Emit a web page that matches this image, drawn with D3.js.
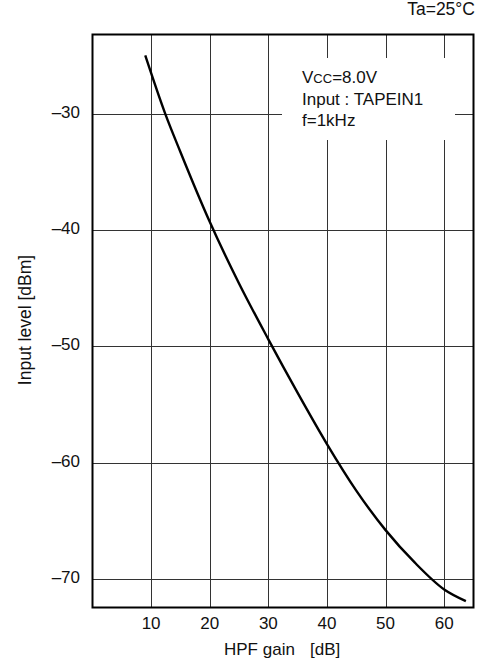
<!DOCTYPE html>
<html>
<head>
<meta charset="utf-8">
<script src="https://cdn.jsdelivr.net/npm/d3@7"></script>
<style>
  body { margin: 0; background: #fff; }
  text { font-family: "Liberation Sans", Arial, sans-serif; fill: #111; white-space: pre; }
</style>
</head>
<body>
<svg id="canvas" width="479" height="664"></svg>
<script>
// HPF gain [dB] vs input level [dBm]
const gain = [9, 12.4, 15, 20, 25, 30, 35, 40, 45, 50, 55, 60, 63.7];
const level = [-25.0, -30, -33.3, -39.3, -44.6, -49.4, -54.0, -58.4, -62.4, -65.8, -68.6, -70.9, -71.9];
const xTicks = [10, 20, 30, 40, 50, 60];
const yTicks = [-30, -40, -50, -60, -70];
const notes = ["=8.0V", "Input : TAPEIN1", "f=1kHz"];

const m = { left: 92.5, top: 34.5, right: 473.5, bottom: 607.5 };

const svg = d3.select('#canvas');

const x = d3.scaleLinear().domain([0, 65]).range([m.left, m.right]);
const y = d3.scaleLinear().domain([-72.45, -23.2]).range([m.bottom, m.top]);

const g = svg.append("g");

// grid
g.append("g")
  .selectAll("line")
  .data(xTicks)
  .join("line")
  .attr("x1", d => Math.round(x(d)) + 0.5)
  .attr("x2", d => Math.round(x(d)) + 0.5)
  .attr("y1", m.top)
  .attr("y2", m.bottom)
  .attr("stroke", "#333");

g.append("g")
  .selectAll("line")
  .data(yTicks)
  .join("line")
  .attr("x1", m.left)
  .attr("x2", m.right)
  .attr("y1", d => Math.round(y(d)) + 0.5)
  .attr("y2", d => Math.round(y(d)) + 0.5)
  .attr("stroke", "#333");

// white box behind the conditions text
g.append("rect")
  .attr("x", 282)
  .attr("y", 58)
  .attr("width", 173)
  .attr("height", 82)
  .attr("fill", "#fff");

const t = g.append("text")
  .attr("font-size", 17);
const first = t.append("tspan").attr("x", 302).attr("y", 83);
first.append("tspan").text("V");
first.append("tspan").attr("font-size", 13).text("CC");
first.append("tspan").text(notes[0]);
t.append("tspan").attr("x", 302).attr("y", 104.5).text(notes[1]);
t.append("tspan").attr("x", 302).attr("y", 126).text(notes[2]);

// curve
const pts = gain.map((d, i) => [d, level[i]]);
g.append("path")
  .datum(pts)
  .attr("fill", "none")
  .attr("stroke", "#000")
  .attr("stroke-width", 2.4)
  .attr("d", d3.line().x(d => x(d[0])).y(d => y(d[1])).curve(d3.curveMonotoneX));

// frame
g.append("rect")
  .attr("x", m.left)
  .attr("y", m.top)
  .attr("width", m.right - m.left)
  .attr("height", m.bottom - m.top)
  .attr("fill", "none")
  .attr("stroke", "#000")
  .attr("stroke-width", 2);

// tick labels
g.append("g")
  .selectAll("text")
  .data(xTicks)
  .join("text")
  .attr("x", d => x(d))
  .attr("y", 628.5)
  .attr("text-anchor", "middle")
  .attr("font-size", 17)
  .text(d => d);

g.append("g")
  .selectAll("text")
  .data(yTicks)
  .join("text")
  .attr("x", 80)
  .attr("y", d => y(d) + 4)
  .attr("text-anchor", "end")
  .attr("font-size", 17)
  .text(d => "\u2013" + Math.abs(d));

// axis titles
const xt = svg.append("text")
  .attr("y", 655)
  .attr("font-size", 17);
xt.append("tspan").attr("x", 224).text("HPF gain");
xt.append("tspan").attr("x", 310).text("[dB]");

svg.append("text")
  .attr("transform", "translate(31,320) rotate(-90)")
  .attr("text-anchor", "middle")
  .attr("font-size", 17.5)
  .text("Input level [dBm]");

svg.append("text")
  .attr("x", 475)
  .attr("y", 15)
  .attr("text-anchor", "end")
  .attr("font-size", 17.5)
  .text("Ta=25°C");
</script>
</body>
</html>
